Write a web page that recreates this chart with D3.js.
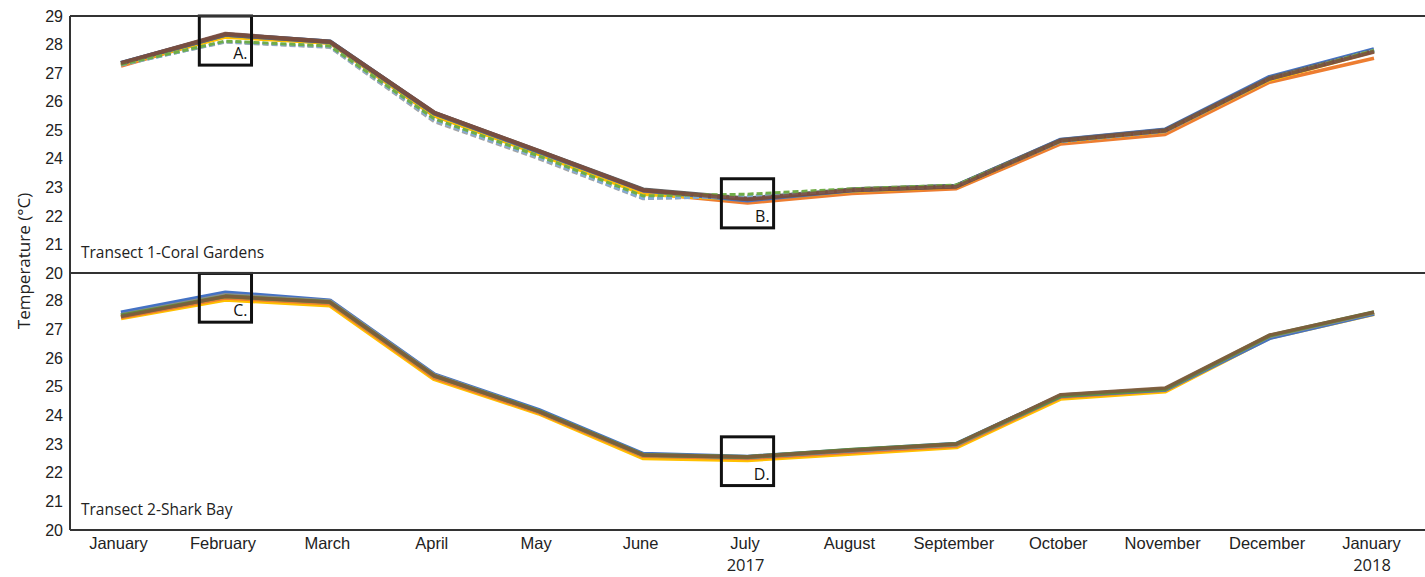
<!DOCTYPE html>
<html>
<head>
<meta charset="utf-8">
<script src="https://cdn.jsdelivr.net/npm/d3@7"></script>
<style>
  body { margin: 0; background: #fff; }
  svg { display: block; font-family: "Open Sans", "Noto Sans", sans-serif; }
</style>
</head>
<body>
<svg id="chart" width="1425" height="577"></svg>
<script>
// Monthly mean water temperature along two transects
const months = ["January", "February", "March", "April", "May", "June", "July",
  "August", "September", "October", "November", "December", "January"];
const yearLabels = [{ idx: 6, text: "2017" }, { idx: 12, text: "2018" }];
const topTicks = [20, 21, 22, 23, 24, 25, 26, 27, 28, 29];
const bottomTicks = [20, 21, 22, 23, 24, 25, 26, 27, 28];

// Transect 1 - Coral Gardens (°C), one array per logger
const cgOrange = [27.25, 28.30, 28.05, 25.50, 24.20, 22.80, 22.45, 22.78, 22.95, 24.52, 24.85, 26.68, 27.52];
const cgBlue   = [27.35, 28.35, 28.10, 25.60, 24.25, 22.90, 22.55, 22.90, 23.05, 24.66, 25.02, 26.86, 27.83];
const cgYellow = [27.30, 28.25, 28.05, 25.50, 24.15, 22.75, 22.55, 22.85, 23.00, 24.60, 24.95, 26.75, 27.75];
const cgGrayDash  = [27.30, 28.08, 27.90, 25.30, 24.00, 22.60, 22.70, 22.90, 23.05, 24.60, 24.95, 26.78, 27.78];
const cgGreenDash = [27.30, 28.12, 27.95, 25.40, 24.10, 22.70, 22.76, 22.95, 23.08, 24.62, 24.98, 26.80, 27.80];
const cgLBlueDash = [27.28, 28.10, 27.92, 25.35, 24.05, 22.62, 22.68, 22.90, 23.05, 24.60, 24.96, 26.80, 27.80];
const cgDarkGray  = [27.35, 28.35, 28.10, 25.60, 24.27, 22.92, 22.60, 22.92, 23.05, 24.65, 25.00, 26.82, 27.78];
const cgBrown     = [27.35, 28.38, 28.10, 25.62, 24.28, 22.90, 22.58, 22.90, 23.02, 24.63, 24.98, 26.80, 27.75];

// Transect 2 - Shark Bay (°C)
const sbYellow = [27.40, 28.05, 27.85, 25.28, 24.08, 22.52, 22.45, 22.68, 22.90, 24.60, 24.85, 26.72, 27.55];
const sbOrange = [27.42, 28.10, 27.90, 25.32, 24.10, 22.58, 22.50, 22.72, 22.94, 24.64, 24.88, 26.75, 27.56];
const sbBlue   = [27.58, 28.28, 28.00, 25.42, 24.18, 22.65, 22.55, 22.78, 23.00, 24.68, 24.90, 26.70, 27.55];
const sbGray   = [27.50, 28.20, 27.98, 25.40, 24.15, 22.62, 22.55, 22.78, 22.98, 24.70, 24.92, 26.76, 27.58];
const sbGreen  = [27.48, 28.15, 27.95, 25.38, 24.15, 22.62, 22.55, 22.80, 23.00, 24.68, 24.92, 26.78, 27.60];
const sbBrown  = [27.45, 28.15, 27.95, 25.38, 24.14, 22.62, 22.55, 22.78, 23.00, 24.72, 24.95, 26.80, 27.60];

// Highlighted regions: label, month index, upper and lower temperature
const cgBoxes = [
  { label: "A.", idx: 1, hi: 29.0, lo: 27.28 },
  { label: "B.", idx: 6, hi: 23.30, lo: 21.58 }
];
const sbBoxes = [
  { label: "C.", idx: 1, hi: 28.95, lo: 27.25 },
  { label: "D.", idx: 6, hi: 23.25, lo: 21.55 }
];

const svg = d3.select("#chart");
const left = 70, right = 1425;

const x = d3.scalePoint().domain(d3.range(months.length)).range([121, 1374]);
const step = x.step();

const panels = [
  {
    title: "Transect 1-Coral Gardens",
    y: d3.scaleLinear().domain([20, 29]).range([273, 16]),
    ticks: topTicks,
    boxes: cgBoxes,
    series: [
      { v: cgOrange, c: "#ED7D31", w: 3.5 },
      { v: cgYellow, c: "#FFC000", w: 3 },
      { v: cgBlue, c: "#4472C4", w: 4.5 },
      { v: cgDarkGray, c: "#636363", w: 4.5 },
      { v: cgGrayDash, c: "#A5A5A5", w: 3, dash: "6,3" },
      { v: cgLBlueDash, c: "#7FAAD8", w: 3, dash: "6,3" },
      { v: cgGreenDash, c: "#70AD47", w: 3, dash: "6,3" },
      { v: cgBrown, c: "#7B4A3A", w: 4, op: 0.85 }
    ]
  },
  {
    title: "Transect 2-Shark Bay",
    y: d3.scaleLinear().domain([20, 29]).range([530, 272]),
    ticks: bottomTicks,
    boxes: sbBoxes,
    series: [
      { v: sbYellow, c: "#FFC000", w: 5 },
      { v: sbOrange, c: "#ED7D31", w: 4 },
      { v: sbBlue, c: "#4472C4", w: 4.5 },
      { v: sbGray, c: "#8C8C8C", w: 4 },
      { v: sbGreen, c: "#5E8F3E", w: 4 },
      { v: sbBrown, c: "#7E5A3C", w: 3.5, op: 0.9 }
    ]
  }
];

panels.forEach(p => {
  const g = svg.append("g");

  // value labels on the left, no tick marks
  const axis = d3.axisLeft(p.y).tickValues(p.ticks).tickSize(0).tickPadding(7).tickFormat(d3.format("d"));
  g.append("g")
    .attr("transform", `translate(${left},0)`)
    .call(axis)
    .call(a => a.select(".domain").remove())
    .selectAll("text")
    .attr("font-size", 16)
    .attr("fill", "#222");

  const line = d3.line().x((d, i) => x(i)).y(d => p.y(d));
  p.series.forEach(s => {
    g.append("path")
      .datum(s.v)
      .attr("d", line)
      .attr("fill", "none")
      .attr("stroke", s.c)
      .attr("stroke-width", s.w)
      .attr("stroke-dasharray", s.dash || null)
      .attr("stroke-opacity", s.op || 1)
      .attr("stroke-linejoin", "round");
  });

  g.append("text")
    .attr("x", left + 11)
    .attr("y", p.y(20) - 15)
    .attr("font-size", 15.5)
    .attr("fill", "#222")
    .text(p.title);

  p.boxes.forEach(b => {
    const x0 = x(b.idx) - step * 0.25, x1 = x(b.idx) + step * 0.25;
    g.append("rect")
      .attr("x", x0).attr("y", p.y(b.hi))
      .attr("width", x1 - x0).attr("height", p.y(b.lo) - p.y(b.hi))
      .attr("fill", "none").attr("stroke", "#111").attr("stroke-width", 3);
    g.append("text")
      .attr("x", x1 - 4).attr("y", p.y(b.lo) - 6)
      .attr("text-anchor", "end")
      .attr("font-size", 16)
      .attr("fill", "#111")
      .text(b.label);
  });
});

// frame: top, divider, bottom and left edge
const yTop = panels[0].y, yBot = panels[1].y;
[yTop(29), yTop(20), yBot(20)].forEach(yy => {
  svg.append("line")
    .attr("x1", left).attr("x2", right).attr("y1", yy).attr("y2", yy)
    .attr("stroke", "#333").attr("stroke-width", 2);
});
svg.append("line")
  .attr("x1", left).attr("x2", left).attr("y1", yTop(29)).attr("y2", yBot(20))
  .attr("stroke", "#333").attr("stroke-width", 2);

// month labels along the bottom
const xAxis = d3.axisBottom(x).tickSize(0).tickPadding(7).tickFormat(i => months[i]);
svg.append("g")
  .attr("transform", `translate(-3,${yBot(20)})`)
  .call(xAxis)
  .call(a => a.select(".domain").remove())
  .selectAll("text")
  .attr("font-size", 16.5)
  .attr("fill", "#222");

svg.selectAll(".year")
  .data(yearLabels)
  .join("text")
  .attr("class", "year")
  .attr("x", d => x(d.idx) - 2)
  .attr("y", yBot(20) + 41)
  .attr("text-anchor", "middle")
  .attr("font-size", 16.5)
  .attr("fill", "#222")
  .text(d => d.text);

svg.append("text")
  .attr("transform", `translate(30,261) rotate(-90)`)
  .attr("text-anchor", "middle")
  .attr("font-size", 17)
  .attr("fill", "#222")
  .text("Temperature (°C)");
</script>
</body>
</html>
